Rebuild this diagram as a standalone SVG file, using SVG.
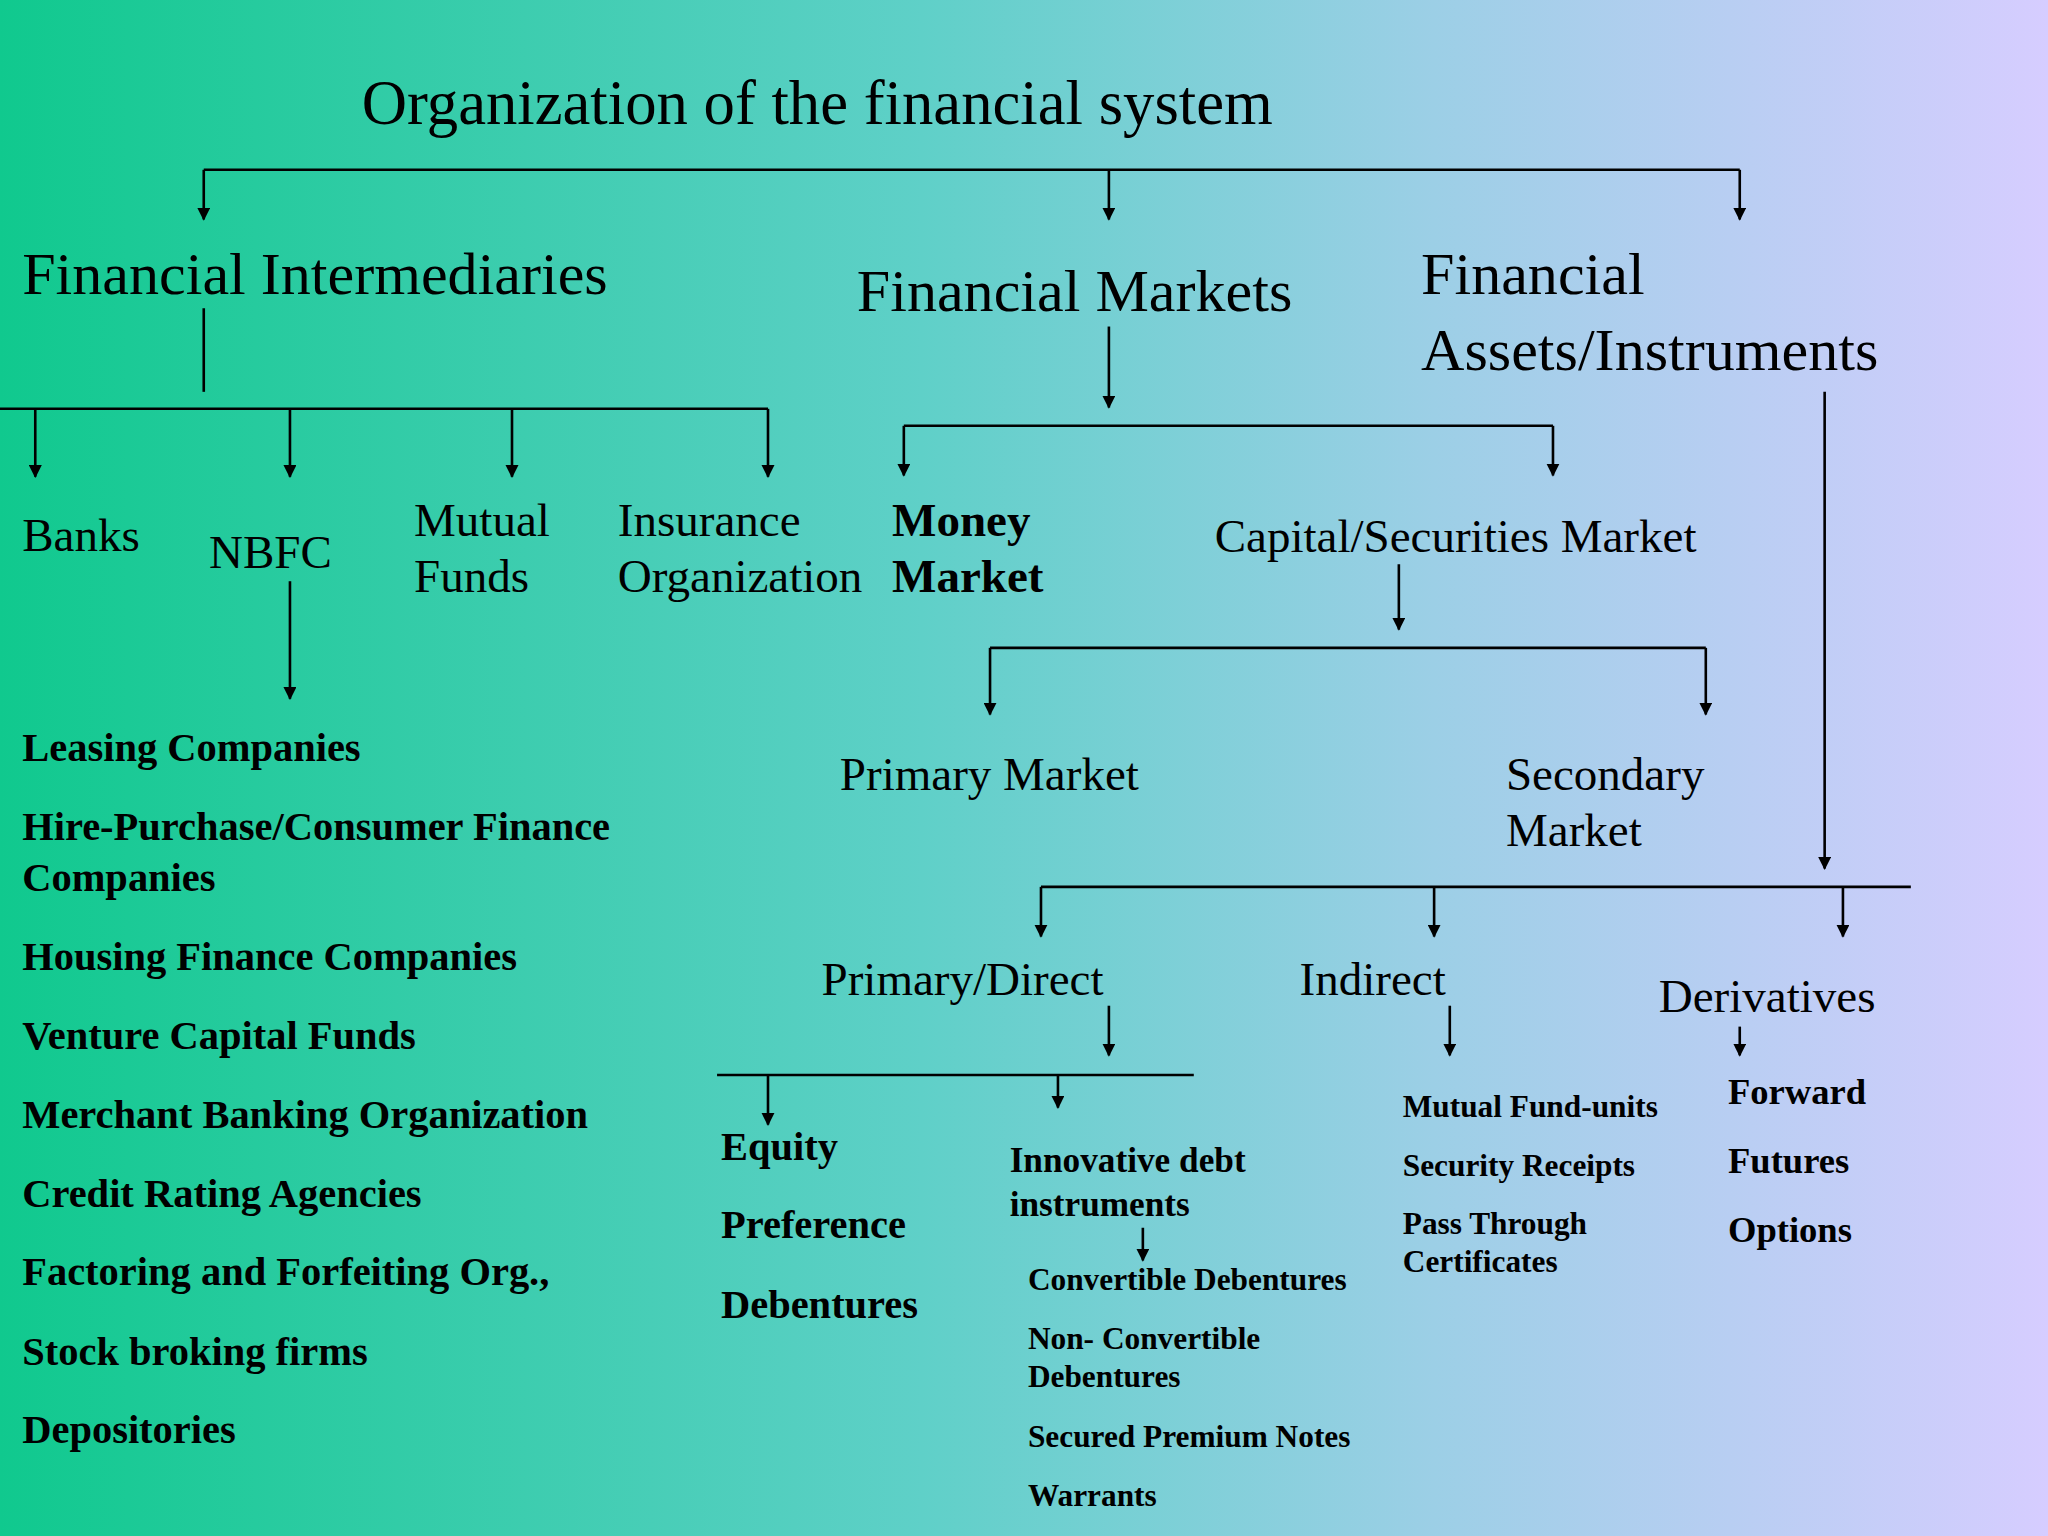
<svg xmlns="http://www.w3.org/2000/svg" width="2048" height="1536" viewBox="0 0 2048 1536">
<defs>
<linearGradient id="bg" x1="0" y1="0" x2="1" y2="0">
<stop offset="0" stop-color="#10c98e"/><stop offset="0.45" stop-color="#5fd0c8"/><stop offset="0.7" stop-color="#9ccfe6"/><stop offset="1" stop-color="#d6cdff"/>
</linearGradient>
<marker id="ah" viewBox="0 0 10 10" refX="9" refY="5" markerWidth="10" markerHeight="10" markerUnits="userSpaceOnUse" orient="auto"><path d="M0,0 L10,5 L0,10 z" fill="#000"/></marker>
<style>
text{font-family:"Liberation Serif","Times New Roman",serif;fill:#000}
.t{font-size:48px}.h{font-size:46px}.m{font-size:36px}.b{font-size:31px;font-weight:bold}.s{font-size:24px;font-weight:bold}.bb{font-weight:bold}
.c line,.c path{stroke:#000;stroke-width:2;fill:none}
.a{marker-end:url(#ah)}
</style>
</defs>
<rect width="2048" height="1536" fill="url(#bg)"/>
<g transform="scale(1.30612)">
<g id="title"><text class="t" x="277" y="95">Organization of the financial system</text></g>
<g class="c" id="connectors">
<line x1="156" y1="130" x2="1332" y2="130"/>
<line class="a" x1="156" y1="130" x2="156" y2="168"/>
<line class="a" x1="849" y1="130" x2="849" y2="168"/>
<line class="a" x1="1332" y1="130" x2="1332" y2="168"/>
<line x1="156" y1="236" x2="156" y2="300"/>
<line x1="0" y1="313" x2="588" y2="313"/>
<line class="a" x1="27" y1="313" x2="27" y2="365"/>
<line class="a" x1="222" y1="313" x2="222" y2="365"/>
<line class="a" x1="392" y1="313" x2="392" y2="365"/>
<line class="a" x1="588" y1="313" x2="588" y2="365"/>
<line class="a" x1="222" y1="445" x2="222" y2="535"/>
<line class="a" x1="849" y1="250" x2="849" y2="312"/>
<line x1="692" y1="326" x2="1189" y2="326"/>
<line class="a" x1="692" y1="326" x2="692" y2="364"/>
<line class="a" x1="1189" y1="326" x2="1189" y2="364"/>
<line class="a" x1="1071" y1="432" x2="1071" y2="482"/>
<line x1="758" y1="496" x2="1306" y2="496"/>
<line class="a" x1="758" y1="496" x2="758" y2="547"/>
<line class="a" x1="1306" y1="496" x2="1306" y2="547"/>
<line class="a" x1="1397" y1="300" x2="1397" y2="665"/>
<line x1="797" y1="679" x2="1463" y2="679"/>
<line class="a" x1="797" y1="679" x2="797" y2="717"/>
<line class="a" x1="1098" y1="679" x2="1098" y2="717"/>
<line class="a" x1="1411" y1="679" x2="1411" y2="717"/>
<line class="a" x1="849" y1="770" x2="849" y2="808"/>
<line x1="549" y1="823" x2="914" y2="823"/>
<line class="a" x1="588" y1="823" x2="588" y2="861"/>
<line class="a" x1="810" y1="823" x2="810" y2="848"/>
<line class="a" x1="875" y1="940" x2="875" y2="965"/>
<line class="a" x1="1110" y1="770" x2="1110" y2="808"/>
<line class="a" x1="1332" y1="786" x2="1332" y2="808"/>
</g>
<g id="fi"><text class="h" x="17" y="225">Financial Intermediaries</text></g>
<g id="fm"><text class="h" x="656" y="238">Financial Markets</text></g>
<g id="fa"><text class="h" x="1088" y="225">Financial</text><text class="h" x="1088" y="283">Assets/Instruments</text></g>
<g id="banks"><text class="m" x="17" y="422">Banks</text></g>
<g id="nbfc"><text class="m" x="160" y="435">NBFC</text></g>
<g id="mf"><text class="m" x="317" y="410">Mutual</text><text class="m" x="317" y="453">Funds</text></g>
<g id="ins"><text class="m" x="473" y="410">Insurance</text><text class="m" x="473" y="453">Organization</text></g>
<g id="money"><text class="m bb" x="683" y="410">Money</text><text class="m bb" x="683" y="453">Market</text></g>
<g id="capital"><text class="m" x="930" y="423">Capital/Securities Market</text></g>
<g id="primary"><text class="m" x="643" y="605">Primary Market</text></g>
<g id="secondary"><text class="m" x="1153" y="605">Secondary</text><text class="m" x="1153" y="648">Market</text></g>
<g id="pd"><text class="m" x="629" y="762">Primary/Direct</text></g>
<g id="indirect"><text class="m" x="995" y="762">Indirect</text></g>
<g id="deriv"><text class="m" x="1270" y="775">Derivatives</text></g>
<g id="nbfc-list">
<text class="b" x="17" y="583">Leasing Companies</text>
<text class="b" x="17" y="643">Hire-Purchase/Consumer Finance</text>
<text class="b" x="17" y="682">Companies</text>
<text class="b" x="17" y="743">Housing Finance Companies</text>
<text class="b" x="17" y="803">Venture Capital Funds</text>
<text class="b" x="17" y="864">Merchant Banking Organization</text>
<text class="b" x="17" y="924">Credit Rating Agencies</text>
<text class="b" x="17" y="984">Factoring and Forfeiting Org.,</text>
<text class="b" x="17" y="1045">Stock broking firms</text>
<text class="b" x="17" y="1105">Depositories</text>
</g>
<g id="equity"><text class="b" x="552" y="888">Equity</text><text class="b" x="552" y="948">Preference</text><text class="b" x="552" y="1009">Debentures</text></g>
<g id="innov"><text class="s" style="font-size:27px" x="773" y="897">Innovative debt</text><text class="s" style="font-size:27px" x="773" y="931">instruments</text></g>
<g id="innov-list">
<text class="s" x="787" y="988">Convertible Debentures</text>
<text class="s" x="787" y="1033">Non- Convertible</text>
<text class="s" x="787" y="1062">Debentures</text>
<text class="s" x="787" y="1108">Secured Premium Notes</text>
<text class="s" x="787" y="1153">Warrants</text>
</g>
<g id="ind-list">
<text class="s" x="1074" y="855">Mutual Fund-units</text>
<text class="s" x="1074" y="900">Security Receipts</text>
<text class="s" x="1074" y="945">Pass Through</text>
<text class="s" x="1074" y="974">Certificates</text>
</g>
<g id="der-list">
<text class="s" style="font-size:28px" x="1323" y="845">Forward</text>
<text class="s" style="font-size:28px" x="1323" y="898">Futures</text>
<text class="s" style="font-size:28px" x="1323" y="951">Options</text>
</g>
</g>
</svg>
